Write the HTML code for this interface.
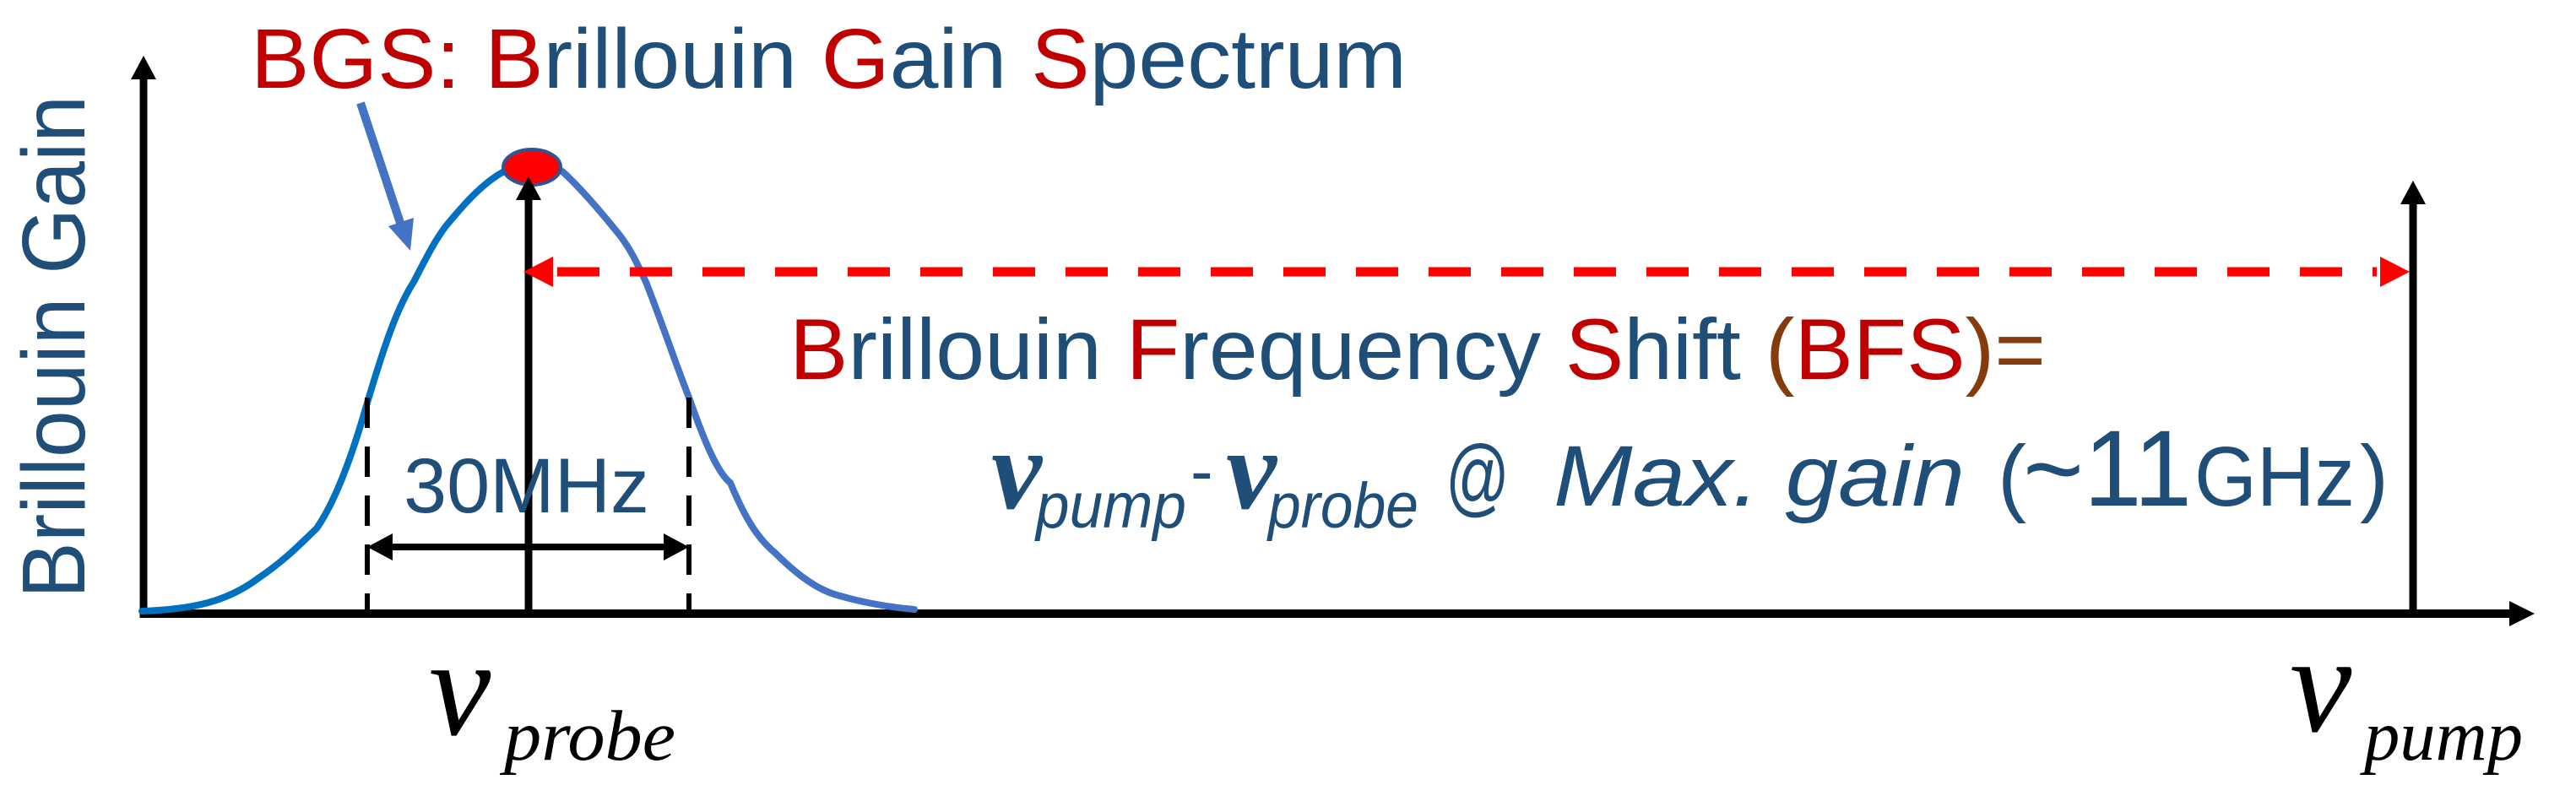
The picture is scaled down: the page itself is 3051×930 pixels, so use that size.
<!DOCTYPE html>
<html><head><meta charset="utf-8"><style>
html,body{margin:0;padding:0;background:#fff;}
svg{display:block;}
</style></head><body>
<svg width="3051" height="930" viewBox="0 0 3051 930" xmlns="http://www.w3.org/2000/svg">
<!-- axes -->
<line x1="170" y1="727" x2="2975" y2="727" stroke="#000" stroke-width="10"/>
<polygon points="3002,727 2972,712 2972,742" fill="#000"/>
<line x1="170" y1="732" x2="170" y2="90" stroke="#000" stroke-width="9"/>
<polygon points="170,66 155,94 185,94" fill="#000"/>
<!-- pump line -->
<line x1="2858" y1="730" x2="2858" y2="240" stroke="#000" stroke-width="9"/>
<polygon points="2858,214 2843,242 2873,242" fill="#000"/>
<!-- gain curve -->
<path d="M168,724 C230,722 270,712 306,685 C340,662 360,640 375,626 C400,590 420,530 435,477 C455,410 470,365 490,334 C505,305 515,285 528,268 C555,235 575,215 597,203" fill="none" stroke="#0070C0" stroke-width="8" stroke-linecap="round"/>
<path d="M666,203 C690,225 715,255 735,280 C750,300 757,318 765,334 C785,385 800,430 816,471 C835,525 850,560 865,572 C885,620 900,640 918,655 C945,682 970,700 995,706 C1030,716 1060,720 1083,722" fill="none" stroke="#4472C4" stroke-width="8" stroke-linecap="round"/>
<!-- dashed verticals -->
<line x1="435" y1="471" x2="435" y2="727" stroke="#000" stroke-width="6" stroke-dasharray="36,22"/>
<line x1="816" y1="471" x2="816" y2="727" stroke="#000" stroke-width="6" stroke-dasharray="36,22"/>
<!-- double arrow -->
<line x1="455" y1="648" x2="796" y2="648" stroke="#000" stroke-width="8"/>
<polygon points="435,648 465,632 465,664" fill="#000"/>
<polygon points="816,648 786,632 786,664" fill="#000"/>
<!-- peak arrow -->
<line x1="626" y1="727" x2="626" y2="230" stroke="#000" stroke-width="9"/>
<ellipse cx="630" cy="198" rx="34" ry="21" fill="#FF0000" stroke="#2F5597" stroke-width="4"/>
<polygon points="626,209 611,237 641,237" fill="#000"/>
<!-- red dashed arrow -->
<line x1="660" y1="322" x2="2815" y2="322" stroke="#FF0000" stroke-width="11" stroke-dasharray="50,36"/>
<polygon points="620,322 655,304 655,340" fill="#FF0000"/>
<polygon points="2854,322 2819,304 2819,340" fill="#FF0000"/>
<!-- pointer arrow -->
<line x1="427" y1="122" x2="476" y2="270" stroke="#4472C4" stroke-width="10"/>
<polygon points="486,297 460,268 490,258" fill="#4472C4"/>
<!-- texts -->
<text x="297" y="104" font-family="Liberation Sans, sans-serif" font-size="100" textLength="1369" lengthAdjust="spacingAndGlyphs" fill="#1F4E79"><tspan fill="#C00000">BGS: B</tspan>rillouin <tspan fill="#C00000">G</tspan>ain <tspan fill="#C00000">S</tspan>pectrum</text>
<text transform="translate(100,709) rotate(-90)" font-family="Liberation Sans, sans-serif" font-size="106" textLength="596" lengthAdjust="spacingAndGlyphs" fill="#1F4E79">Brillouin Gain</text>
<text x="478" y="607" font-family="Liberation Sans, sans-serif" font-size="92" textLength="291" lengthAdjust="spacingAndGlyphs" fill="#1F4E79">30MHz</text>
<text x="935" y="449" font-family="Liberation Sans, sans-serif" font-size="102" textLength="1488" lengthAdjust="spacingAndGlyphs" fill="#1F4E79"><tspan fill="#C00000">B</tspan>rillouin <tspan fill="#C00000">F</tspan>requency <tspan fill="#C00000">S</tspan>hift <tspan fill="#843C0C">(</tspan><tspan fill="#C00000">BFS</tspan><tspan fill="#843C0C">)=</tspan></text>
<!-- formula -->
<g fill="#1F4E79">
<text x="1174" y="602" font-family="Liberation Serif, serif" font-weight="bold" font-style="italic" font-size="135">ν</text>
<text x="1227" y="625" font-family="Liberation Sans, sans-serif" font-style="italic" font-size="76" textLength="178" lengthAdjust="spacingAndGlyphs">pump</text>
<text x="1410" y="585" font-family="Liberation Sans, sans-serif" font-size="80">-</text>
<text x="1452" y="602" font-family="Liberation Serif, serif" font-weight="bold" font-style="italic" font-size="135">ν</text>
<text x="1502" y="625" font-family="Liberation Sans, sans-serif" font-style="italic" font-size="76" textLength="178" lengthAdjust="spacingAndGlyphs">probe</text>
<text x="1712" y="599" font-family="Liberation Sans, sans-serif" font-size="102" textLength="76" lengthAdjust="spacingAndGlyphs">@</text>
<text x="1840" y="599" font-family="Liberation Sans, sans-serif" font-style="italic" font-size="102" textLength="487" lengthAdjust="spacingAndGlyphs">Max. gain</text>
<text x="2366" y="599" font-family="Liberation Sans, sans-serif" font-size="102">(</text>
<text x="2396" y="599" font-family="Liberation Sans, sans-serif" font-size="128" textLength="200" lengthAdjust="spacingAndGlyphs">~11</text>
<text x="2599" y="599" font-family="Liberation Sans, sans-serif" font-size="100" textLength="190" lengthAdjust="spacingAndGlyphs">GHz</text>
<text x="2795" y="599" font-family="Liberation Sans, sans-serif" font-size="102">)</text>
</g>
<!-- nu labels -->
<text x="508" y="870" font-family="Liberation Serif, serif" font-style="italic" font-size="165" fill="#000">ν</text>
<text x="597" y="900" font-family="Liberation Serif, serif" font-style="italic" font-size="85" textLength="203" lengthAdjust="spacingAndGlyphs" fill="#000">probe</text>
<text x="2712" y="866" font-family="Liberation Serif, serif" font-style="italic" font-size="165" fill="#000">ν</text>
<text x="2800" y="900" font-family="Liberation Serif, serif" font-style="italic" font-size="85" textLength="188" lengthAdjust="spacingAndGlyphs" fill="#000">pump</text>
</svg>
</body></html>
